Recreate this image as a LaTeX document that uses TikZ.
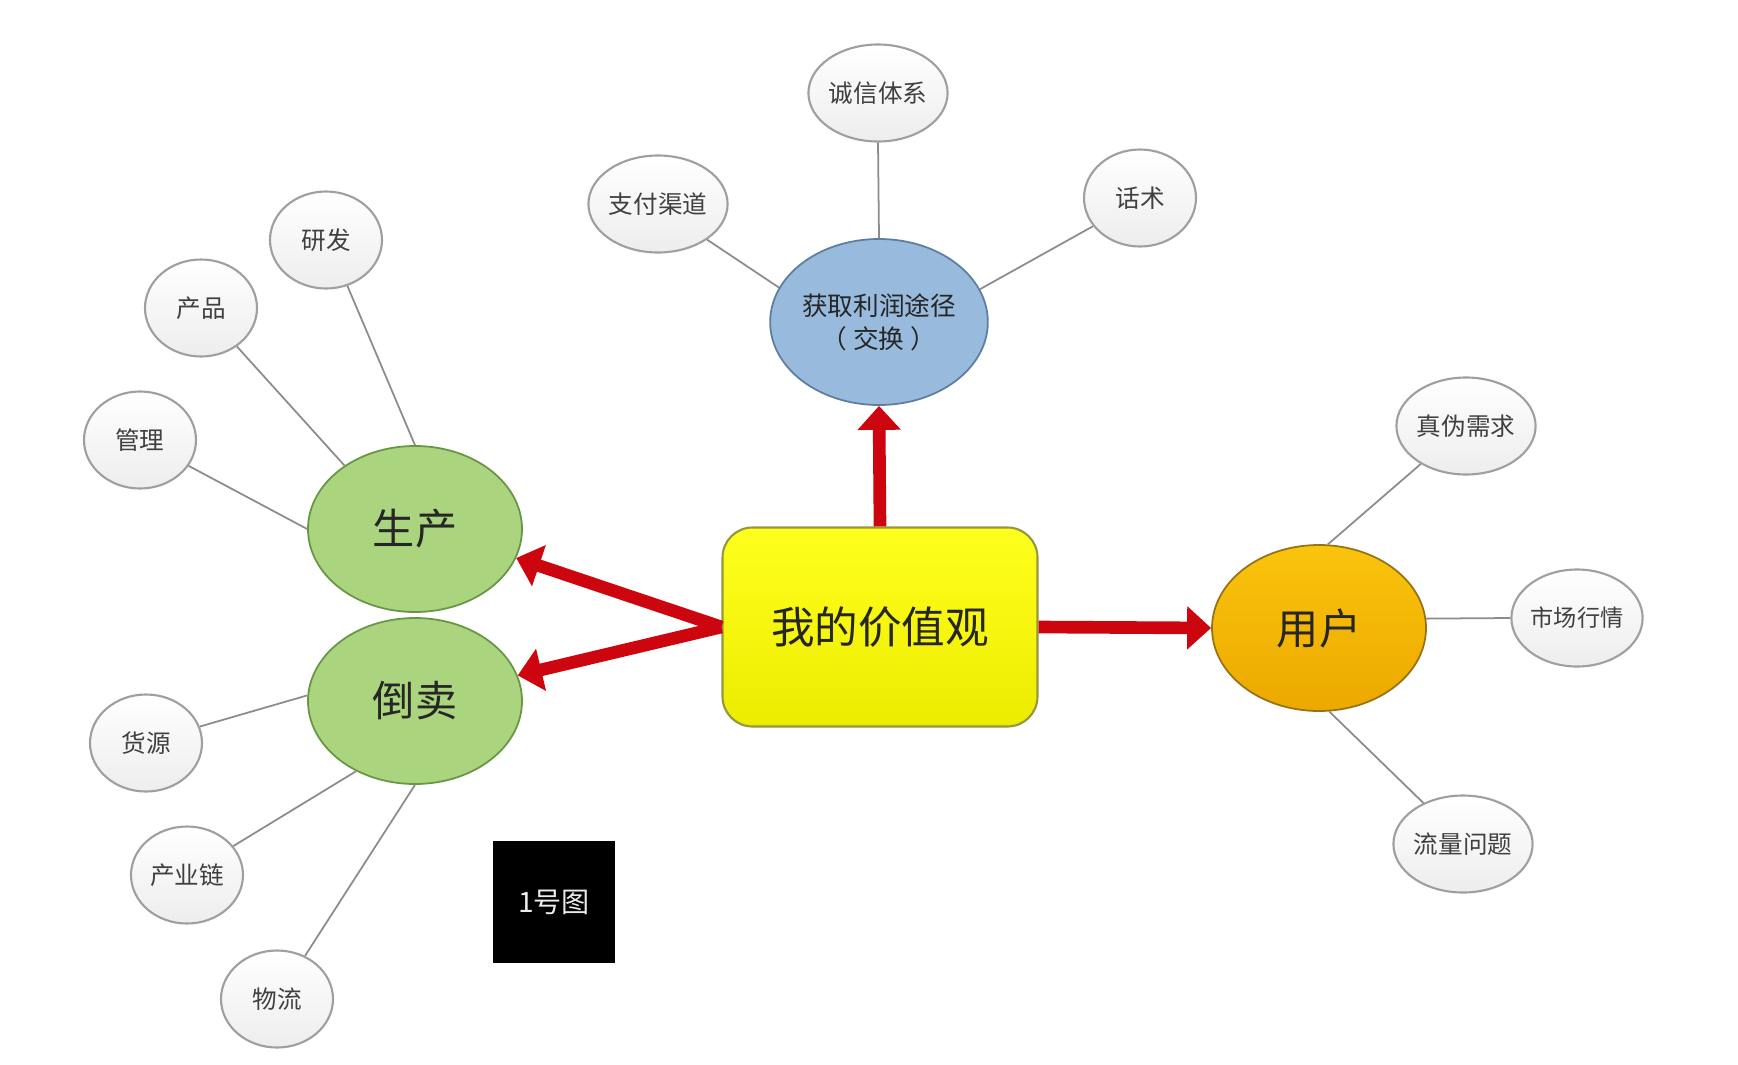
\documentclass[tikz,border=0pt]{standalone}
\usepackage{fontspec}
\setmainfont{Noto Sans CJK SC}
\usetikzlibrary{shapes.geometric,arrows.meta}

\definecolor{boxtop}{RGB}{255,255,30}
\definecolor{boxbot}{RGB}{236,236,0}
\definecolor{boxedge}{RGB}{150,150,60}
\definecolor{greenfill}{RGB}{170,212,125}
\definecolor{greenedge}{RGB}{105,150,70}
\definecolor{bluefill}{RGB}{152,186,220}
\definecolor{blueedge}{RGB}{95,125,160}
\definecolor{orangetop}{RGB}{250,196,12}
\definecolor{orangebot}{RGB}{236,168,0}
\definecolor{orangeedge}{RGB}{150,115,20}
\definecolor{twiggray}{RGB}{140,140,140}
\definecolor{arrowred}{RGB}{205,5,15}

\tikzset{
	hubnode/.style={ellipse, draw, line width=0.5pt, inner sep=0pt, minimum width=2.14cm, minimum height=1.66cm, text=black!85, font=\fontsize{12}{14}\selectfont},
	leafnode/.style={ellipse, draw=gray!75, line width=0.6pt, inner sep=0pt, top color=white, bottom color=gray!14, minimum width=1.12cm, minimum height=0.97cm, text=black!75, font=\fontsize{7}{8}\selectfont},
	twigline/.style={draw=twiggray, line width=0.5pt},
	bigarrow/.style={draw=arrowred, line width=3.6pt, -{Triangle[length=0.24cm, width=0.42cm]}},
}

\begin{document}
\begin{tikzpicture}
	\useasboundingbox (0,0) rectangle (17.38,10.64);
	\fill[white] (0,0) rectangle (17.38,10.64);
	\node (cv) [rectangle, rounded corners=0.3cm, draw=boxedge, line width=0.6pt, top color=boxtop, bottom color=boxbot, minimum width=3.15cm, minimum height=1.99cm, text=black!85, font=\fontsize{12.4}{15}\selectfont] at (8.80,4.37) {我的价值观};
	\node (hq) [hubnode, draw=blueedge, fill=bluefill, minimum width=2.16cm, align=center, font=\fontsize{7.3}{9.4}\selectfont] at (8.79,7.42) {获取利润途径\\（ 交换 ）};
	\node (sc) [hubnode, draw=greenedge, fill=greenfill] at (4.15,5.35) {生产};
	\node (dm) [hubnode, draw=greenedge, fill=greenfill] at (4.15,3.63) {倒卖};
	\node (yh) [hubnode, draw=orangeedge, top color=orangetop, bottom color=orangebot] at (13.19,4.36) {用户};
	\node (cx) [leafnode] at (8.78,9.71) {诚信体系};
	\node (zf) [leafnode] at (6.58,8.60) {支付渠道};
	\node (hs) [leafnode] at (11.40,8.66) {话术};
	\node (yf) [leafnode] at (3.26,8.24) {研发};
	\node (cp) [leafnode] at (2.01,7.56) {产品};
	\node (gl) [leafnode] at (1.40,6.24) {管理};
	\node (hy) [leafnode] at (1.46,3.21) {货源};
	\node (cy) [leafnode] at (1.87,1.89) {产业链};
	\node (wl) [leafnode] at (2.77,0.65) {物流};
	\node (zw) [leafnode] at (14.66,6.38) {真伪需求};
	\node (mk) [leafnode, font=\fontsize{6.6}{8}\selectfont] at (15.77,4.46) {市场行情};
	\node (ll) [leafnode] at (14.63,2.20) {流量问题};
	\node (tag) [rectangle, fill=black, minimum size=1.22cm, text=white!85!gray, font=\fontsize{8}{9}\selectfont] at (5.54,1.62) {1号图};
	\draw[twigline] (cx.south) -- (hq.north);
	\draw[twigline] (zf.-36) -- (hq.161);
	\draw[twigline] (hs.-149) -- (hq.18);
	\draw[twigline] (yf.-65) -- (sc.north);
	\draw[twigline] (cp.-47) -- (sc.138);
	\draw[twigline] (gl.-28) -- (sc.west);
	\draw[twigline] (hy.17) -- (dm.177);
	\draw[twigline] (cy.32) -- (dm.-130);
	\draw[twigline] (wl.57) -- (dm.south);
	\draw[twigline] (zw.-140) -- (yh.84);
	\draw[twigline] (mk.west) -- (yh.5);
	\draw[twigline] (ll.134) -- (yh.-83);
	\draw[bigarrow] (cv.north) -- (hq.south);
	\draw[bigarrow] (cv.east) -- (yh.west);
	\draw[bigarrow] (cv.west) -- (sc.-16);
	\draw[bigarrow] (cv.west) -- (dm.14);
\end{tikzpicture}
\end{document}
